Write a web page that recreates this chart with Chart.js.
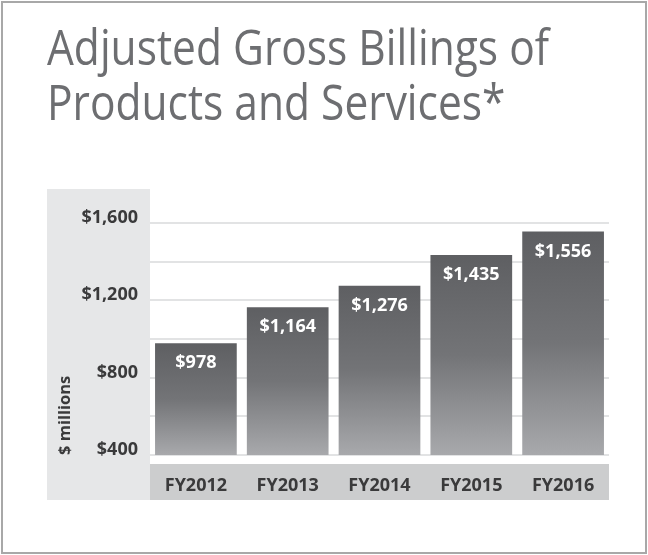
<!DOCTYPE html>
<html>
<head>
<meta charset="utf-8">
<script src="https://cdn.jsdelivr.net/npm/chart.js@4/dist/chart.umd.min.js"></script>
<style>
  html, body { margin: 0; padding: 0; background: #fff; }
  #wrap { width: 648px; height: 555px; }
</style>
</head>
<body>
<div id="wrap"><canvas id="chart" width="648" height="555"></canvas></div>
<script>
// data
const years = ['FY2012', 'FY2013', 'FY2014', 'FY2015', 'FY2016'];
const billings = [978, 1164, 1276, 1435, 1556];
const valueLabels = ['$978', '$1,164', '$1,276', '$1,435', '$1,556'];
const yTickValues = [400, 800, 1200, 1600];
const yTickLabels = ['$400', '$800', '$1,200', '$1,600'];

const titleLines = ['Adjusted Gross Billings of', 'Products and Services*'];
const bodyFont = '"Open Sans", "DejaVu Sans", sans-serif';
const darkText = '#3a3a3b';

// frame, white page and the two grey bands behind the axes
const bandsPlugin = {
  id: 'bands',
  beforeDraw(chart) {
    const { ctx, chartArea } = chart;
    ctx.save();
    ctx.fillStyle = '#fff';
    ctx.fillRect(0, 0, chart.width, chart.height);
    ctx.strokeStyle = '#a8a8a8';
    ctx.lineWidth = 2;
    ctx.strokeRect(2, 2, chart.width - 4, chart.height - 4);
    // left band
    ctx.fillStyle = '#e6e7e8';
    ctx.fillRect(47, chartArea.top - 34, chartArea.left - 47, chartArea.bottom + 45 - (chartArea.top - 34));
    // bottom band
    ctx.fillStyle = '#cccdce';
    ctx.fillRect(chartArea.left, chartArea.bottom + 9, chartArea.right - chartArea.left, 36);
    ctx.restore();
  }
};

// big two-line heading, the original face is narrow so squeeze Open Sans a bit
const headingPlugin = {
  id: 'heading',
  afterDraw(chart) {
    const { ctx } = chart;
    ctx.save();
    ctx.fillStyle = '#6d6e71';
    ctx.font = '50px "Open Sans", sans-serif';
    ctx.textAlign = 'left';
    ctx.textBaseline = 'alphabetic';
    ctx.translate(47, 0);
    ctx.scale(0.85, 1);
    ctx.fillText(titleLines[0], 0, 65);
    ctx.fillText(titleLines[1], 0, 120);
    ctx.restore();
  }
};

// white value labels inside the top of each bar
const valuePlugin = {
  id: 'values',
  afterDatasetsDraw(chart) {
    const { ctx } = chart;
    const meta = chart.getDatasetMeta(0);
    ctx.save();
    ctx.fillStyle = '#ffffff';
    ctx.font = 'bold 18px ' + bodyFont;
    ctx.textAlign = 'center';
    ctx.textBaseline = 'middle';
    meta.data.forEach((bar, i) => {
      ctx.fillText(valueLabels[i], bar.x, bar.y + 20);
    });
    ctx.restore();
  }
};

function barGradient(c) {
  const chart = c.chart;
  const area = chart.chartArea;
  if (!area || c.raw === undefined) return '#7a7b7e';
  const top = chart.scales.y.getPixelForValue(c.raw);
  const g = chart.ctx.createLinearGradient(0, top, 0, area.bottom);
  g.addColorStop(0, '#5e5f62');
  g.addColorStop(0.5, '#737477');
  g.addColorStop(1, '#a8a9ac');
  return g;
}

new Chart(document.getElementById('chart'), {
  type: 'bar',
  data: {
    labels: years,
    datasets: [{
      label: 'Adjusted Gross Billings',
      data: billings,
      backgroundColor: barGradient,
      borderWidth: 0,
      categoryPercentage: 1,
      barPercentage: 0.89
    }]
  },
  options: {
    responsive: false,
    animation: false,
    layout: { padding: { left: 47, right: 39, top: 223, bottom: 55 } },
    plugins: {
      legend: { display: false },
      tooltip: { enabled: false },
      title: { display: false }
    },
    scales: {
      x: {
        grid: { display: false },
        border: { display: false },
        ticks: { color: darkText, font: { family: bodyFont, size: 18, weight: 'bold' }, padding: 12 },
        afterFit(scale) { scale.height = 45; }
      },
      y: {
        min: 400,
        max: 1600,
        grid: { color: '#e2e3e4', lineWidth: 2, drawTicks: false },
        border: { display: false },
        ticks: {
          stepSize: 200,
          padding: 12,
          labelOffset: -5,
          color: darkText,
          font: { family: bodyFont, size: 18, weight: 'bold' },
          callback: v => {
            const i = yTickValues.indexOf(v);
            return i >= 0 ? yTickLabels[i] : '';
          }
        },
        title: {
          display: true,
          text: '$ millions',
          align: 'start',
          color: darkText,
          font: { family: bodyFont, size: 16.5, weight: 'bold' },
          padding: { top: 8, bottom: 0 }
        },
        afterFit(scale) { scale.width = 103; }
      }
    }
  },
  plugins: [bandsPlugin, valuePlugin, headingPlugin]
});
</script>
</body>
</html>
